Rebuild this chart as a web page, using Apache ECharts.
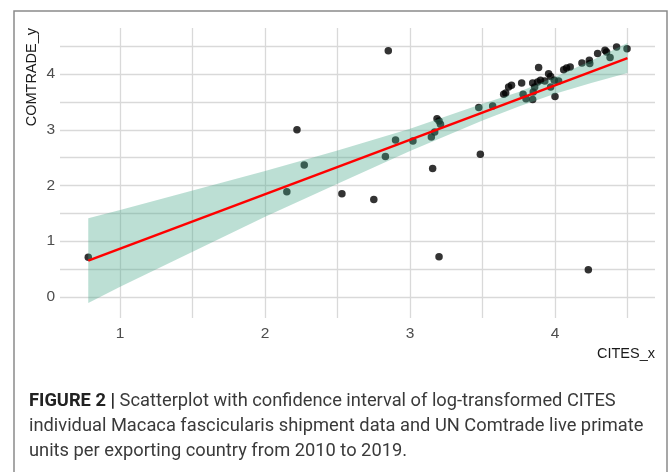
<!DOCTYPE html>
<html><head><meta charset="utf-8">
<script src="https://cdn.jsdelivr.net/npm/echarts@6/dist/echarts.min.js"></script>
<style>html,body{margin:0;padding:0;background:#fff}#c{width:670px;height:472px}</style>
</head><body><div id="c"></div>
<script>
const citesX = [0.78, 2.15, 2.22, 2.27, 2.53, 2.75, 2.83, 2.85, 2.90, 3.02, 3.147, 3.156, 3.17, 3.186, 3.20, 3.21, 3.20,
  3.474, 3.485, 3.57, 3.646, 3.66, 3.68, 3.70, 3.77, 3.78, 3.80, 3.846, 3.85, 3.846, 3.86, 3.887, 3.88, 3.90, 3.93,
  3.956, 3.97, 3.97, 3.995, 4.00, 4.025, 4.06, 4.08, 4.105, 4.186, 4.237, 4.24, 4.294, 4.345, 4.356, 4.38, 4.425, 4.497, 4.23];
const comtradeY = [0.71, 1.89, 3.00, 2.37, 1.85, 1.75, 2.52, 4.42, 2.82, 2.80, 2.87, 2.305, 2.96, 3.20, 3.16, 3.10, 0.72,
  3.40, 2.56, 3.43, 3.64, 3.66, 3.77, 3.80, 3.84, 3.64, 3.56, 3.545, 3.68, 3.84, 3.77, 4.12, 3.86, 3.89, 3.88,
  4.01, 3.96, 3.77, 3.89, 3.60, 3.88, 4.08, 4.11, 4.13, 4.20, 4.25, 4.19, 4.37, 4.43, 4.40, 4.30, 4.49, 4.455, 0.485];
const fitX = [0.78, 4.5];
const fitY = [0.65, 4.29];
const bandX = [0.78, 1.0, 1.5, 2.0, 2.5, 3.0, 3.5, 3.75, 4.0, 4.25, 4.5];
const bandLower = [-0.11, 0.18, 0.81, 1.44, 2.03, 2.62, 3.17, 3.42, 3.65, 3.84, 4.02];
const bandUpper = [1.41, 1.56, 1.91, 2.26, 2.63, 3.02, 3.47, 3.68, 3.95, 4.24, 4.56];
const xTickLabels = ['1', '2', '3', '4'];
const yTickLabels = ['0', '1', '2', '3', '4'];
const xTitle = 'CITES_x';
const yTitle = 'COMTRADE_y';
const captionBold = 'FIGURE 2 |';
const captionLines = [
  ' Scatterplot with confidence interval of log-transformed CITES',
  'individual Macaca fascicularis shipment data and UN Comtrade live primate',
  'units per exporting country from 2010 to 2019.'
];

const chart = echarts.init(document.getElementById('c'), null, {renderer: 'canvas'});
const gridStyle = {color: '#d9d9d9', width: 1.3};
const capFont = '"Roboto", "Liberation Sans", sans-serif';
const capSize = 18.3;
const titleFont = '14.5px "Liberation Sans", Arial, sans-serif';

const option = {
  animation: false,
  backgroundColor: '#fff',
  grid: {left: 60, right: 15, top: 28, bottom: 154, containLabel: false},
  xAxis: {
    type: 'value', min: 0.585, max: 4.69, splitNumber: 8,
    axisLine: {show: false}, axisTick: {show: false},
    splitLine: {show: true, showMinLine: false, showMaxLine: false, lineStyle: gridStyle},
    axisLabel: {
      show: true, margin: 8, color: '#4d4d4d', fontSize: 15.5, fontFamily: 'Liberation Sans, Arial, sans-serif',
      showMinLabel: false, showMaxLabel: false,
      formatter: v => xTickLabels.includes(String(v)) ? String(v) : ''
    }
  },
  yAxis: {
    type: 'value', min: -0.38, max: 4.83, splitNumber: 10,
    axisLine: {show: false}, axisTick: {show: false},
    splitLine: {show: true, showMinLine: false, showMaxLine: false, lineStyle: gridStyle},
    axisLabel: {
      show: true, margin: 5, color: '#4d4d4d', fontSize: 15.5, fontFamily: 'Liberation Sans, Arial, sans-serif',
      showMinLabel: false, showMaxLabel: false,
      formatter: v => yTickLabels.includes(String(v)) ? String(v) : ''
    }
  },
  series: [
    {
      type: 'scatter', z: 2, symbolSize: 7.5,
      itemStyle: {color: '#000'},
      data: citesX.map((x, i) => [x, comtradeY[i]])
    },
    {
      type: 'custom', z: 3, silent: true,
      data: [[bandX[0], bandLower[0]]],
      renderItem: (params, api) => {
        const pts = [];
        for (let i = 0; i < bandX.length; i++) pts.push(api.coord([bandX[i], bandUpper[i]]));
        for (let i = bandX.length - 1; i >= 0; i--) pts.push(api.coord([bandX[i], bandLower[i]]));
        return {type: 'polygon', shape: {points: pts}, style: {fill: 'rgba(70,165,135,0.36)'}};
      }
    },
    {
      type: 'line', z: 4, symbol: 'none', silent: true,
      lineStyle: {color: '#ff0000', width: 2.5},
      data: fitX.map((x, i) => [x, fitY[i]])
    }
  ],
  graphic: [
    {type: 'rect', shape: {x: 14, y: 11, width: 653, height: 490},
     style: {fill: 'none', stroke: '#8a8a8a', lineWidth: 1.5}},
    {type: 'text', x: 32, y: 28, rotation: Math.PI / 2,
     style: {text: yTitle, fill: '#1a1a1a', font: titleFont, align: 'right', verticalAlign: 'middle'}},
    {type: 'text', x: 655, y: 354,
     style: {text: xTitle, fill: '#1a1a1a', font: titleFont, align: 'right', verticalAlign: 'middle'}},
    {type: 'text', x: 29, y: 401,
     style: {text: '{b|' + captionBold + '}' + captionLines[0], fill: '#3a3a3a', fontFamily: capFont, fontSize: capSize,
       align: 'left', verticalAlign: 'middle',
       rich: {b: {fontWeight: 'bold', fill: '#222', fontFamily: capFont, fontSize: capSize}}}},
    {type: 'text', x: 29, y: 426,
     style: {text: captionLines[1], fill: '#3a3a3a', fontFamily: capFont, fontSize: capSize, align: 'left', verticalAlign: 'middle'}},
    {type: 'text', x: 29, y: 451,
     style: {text: captionLines[2], fill: '#3a3a3a', fontFamily: capFont, fontSize: capSize, align: 'left', verticalAlign: 'middle'}}
  ]
};
chart.setOption(option);
</script></body></html>
